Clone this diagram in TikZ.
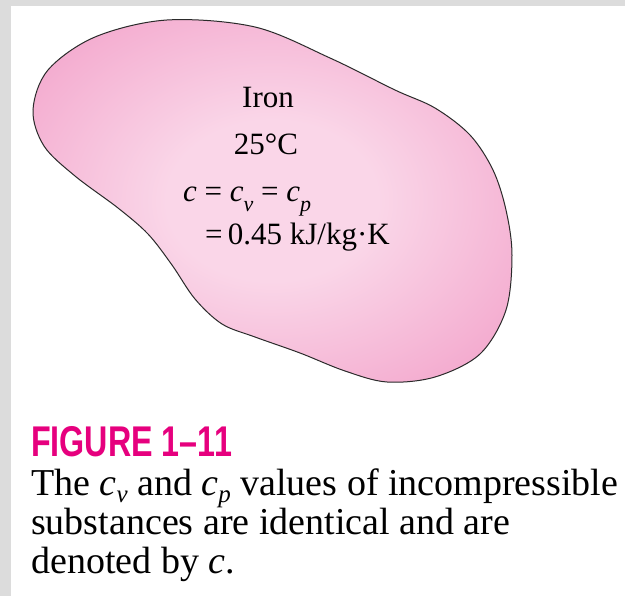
\documentclass[tikz,border=0pt]{standalone}
\usepackage{fontspec}
\setmainfont{Liberation Serif}
\newfontfamily\capfont[FakeStretch=0.75]{Liberation Sans}
\usetikzlibrary{shadings}
\definecolor{bggray}{HTML}{DCDCDC}
\definecolor{pinkL}{HTML}{FAD6E8}
\definecolor{pinkD}{HTML}{F29FC8}
\definecolor{figmag}{HTML}{E6007E}
\definecolor{outline}{HTML}{2A2A2A}
\pgfdeclareradialshading{blobshade}{\pgfpoint{0bp}{0bp}}{color(0bp)=(pinkL); color(11bp)=(pinkL); color(36bp)=(pinkD); color(46bp)=(pinkD); color(50bp)=(pinkD!80!white)}
\newcommand\mysub[3]{\smash{\raisebox{-#3em}{\fontsize{#1}{#1}\selectfont\itshape #2}}}
\tikzset{
  blobtext/.style={font=\fontsize{31}{31}\selectfont, inner sep=0pt},
  captext/.style={font=\fontsize{38}{38}\selectfont, inner sep=0pt, anchor=base west},
  figlabel/.style={font=\fontsize{43}{43}\selectfont\capfont\bfseries, text=figmag, inner sep=0pt, anchor=base west}
}
\begin{document}
\begin{tikzpicture}[x=1pt,y=-1pt]
\useasboundingbox (0,0) rectangle (625,596);
\fill[white] (0,0) rectangle (625,596);
\fill[bggray] (0,0) rectangle (625,6);
\fill[bggray] (0,0) rectangle (11,596);
% blob
\draw[outline, line width=1pt, shading=blobshade]
  plot[smooth cycle, tension=0.55] coordinates {
  (167,20) (255,27) (330,58) (395,90) (435,108) (470,135) (493,170) (506,210)
  (512,255) (506,310) (480,354) (435,377) (387,382) (345,371) (300,353)
  (255,337) (222,324) (195,299) (172,265) (148,234) (118,208) (75,176)
  (44,146) (33,110) (48,70) (95,37)};
\node[blobtext, anchor=base] (iron) at (268,108) {Iron};
\node[blobtext, anchor=base] (temp) at (266,155) {25°C};
\node[blobtext, anchor=base west] (eq1) at (183,202) {\textit{c} = \textit{c}\mysub{22}{v}{0.3} = \textit{c}\mysub{22}{p}{0.3}};
\node[blobtext, anchor=base west] (eq2) at (205,245) {=\,0.45 kJ/kg·K};
% caption
\node[figlabel] (fig) at (31,457) {FIGURE 1–11};
\node[captext] (cap1) at (31,496) {The \textit{c}\mysub{25}{v}{0.18} and \textit{c}\mysub{25}{p}{0.18} values of incompressible};
\node[captext] (cap2) at (31,535) {substances are identical and are};
\node[captext] (cap3) at (31,573) {denoted by \textit{c}.};
\end{tikzpicture}
\end{document}
